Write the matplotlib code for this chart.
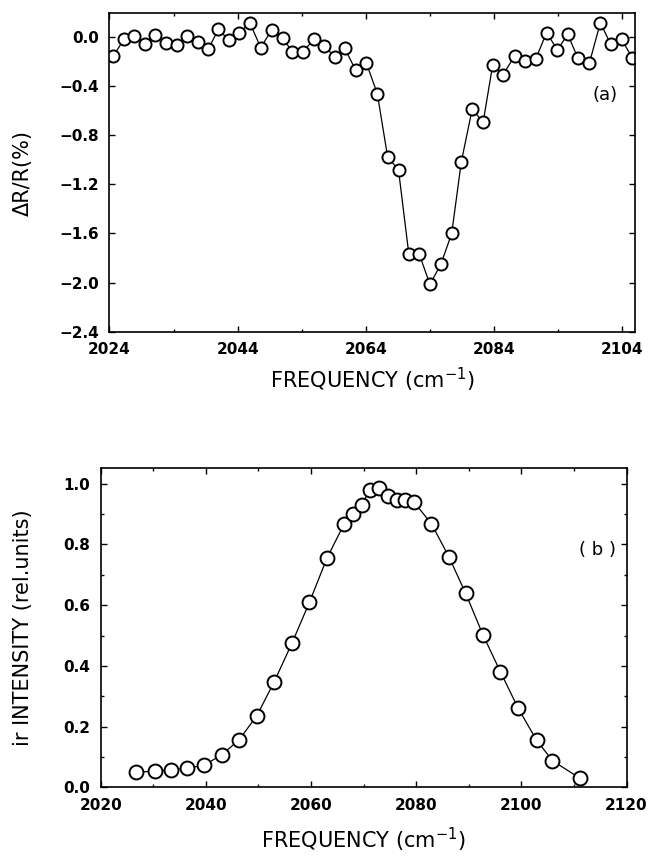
import numpy as np
import matplotlib as mpl
mpl.use('agg')
import matplotlib.pyplot as plt


##--##--  (a) reflectance change  --##--##
freq_a = [2024.6, 2026.3, 2027.9, 2029.5, 2031.1, 2032.8, 2034.5, 2036.1, 2037.8, 2039.4,
          2041.0, 2042.6, 2044.2, 2045.9, 2047.6, 2049.3, 2051.0, 2052.5, 2054.2, 2055.9,
          2057.5, 2059.2, 2060.7, 2062.4, 2064.1, 2065.8, 2067.4, 2069.1, 2070.7, 2072.3,
          2074.0, 2075.7, 2077.4, 2078.9, 2080.6, 2082.3, 2083.8, 2085.4, 2087.2, 2088.9,
          2090.5, 2092.2, 2093.9, 2095.5, 2097.1, 2098.9, 2100.6, 2102.2, 2103.9, 2105.6]
dR_a = [-0.157, -0.019, 0.006, -0.057, 0.014, -0.054, -0.068, 0.006, -0.046, -0.103,
        0.060, -0.027, 0.028, 0.114, -0.090, 0.055, -0.008, -0.122, -0.122, -0.021,
        -0.073, -0.168, -0.094, -0.271, -0.217, -0.466, -0.977, -1.085, -1.764, -1.764,
        -2.014, -1.853, -1.601, -1.018, -0.589, -0.697, -0.230, -0.312, -0.157, -0.195,
        -0.184, 0.033, -0.108, 0.020, -0.176, -0.212, 0.114, -0.062, -0.019, -0.176]

##--##--  (b) ir intensity  --##--##
freq_b = [2026.8, 2030.3, 2033.3, 2036.5, 2039.7, 2043.0, 2046.3, 2049.7, 2053.0, 2056.4,
          2059.7, 2063.0, 2066.3, 2067.9, 2069.6, 2071.2, 2073.0, 2074.7, 2076.3, 2077.9,
          2079.6, 2082.9, 2086.2, 2089.4, 2092.7, 2096.0, 2099.4, 2102.9, 2105.9, 2111.1]
int_b = [0.049, 0.054, 0.057, 0.063, 0.073, 0.107, 0.156, 0.236, 0.348, 0.476,
         0.610, 0.754, 0.868, 0.900, 0.930, 0.980, 0.985, 0.960, 0.947, 0.947,
         0.939, 0.868, 0.760, 0.639, 0.502, 0.381, 0.260, 0.155, 0.088, 0.030]

xticks_a = [2024, 2044, 2064, 2084, 2104]
yticks_a = [-2.4, -2.0, -1.6, -1.2, -0.8, -0.4, 0.0]
xticks_b = [2020, 2040, 2060, 2080, 2100, 2120]
yticks_b = [0.0, 0.2, 0.4, 0.6, 0.8, 1.0]


def style_axes(ax):
  ax.tick_params(axis='both', which='both', direction='in', top=True, right=True, width=1.0)
  ax.tick_params(axis='both', which='major', length=4.0, pad=7.5)
  ax.tick_params(axis='both', which='minor', length=2.0)
  for lab in ax.get_xticklabels() + ax.get_yticklabels():
    lab.set_fontfamily('DejaVu Sans')
    lab.set_fontweight('bold')
    lab.set_fontsize(11)
  for s in ax.spines.values():
    s.set_linewidth(1.2)
  return ax


fig = plt.figure(figsize=(6.49, 8.58), dpi=100)
lab_font = dict(family='DejaVu Sans', size=15)

##--##--  panel (a)  --##--##
ax1 = fig.add_axes([0.1687, 0.6134, 0.8097, 0.3711])
ax1.plot(freq_a, dR_a, color='k', linewidth=0.9, marker='o', markersize=8.7,
         markerfacecolor='white', markeredgecolor='k', markeredgewidth=1.4)
ax1.set_xlim(2024, 2106)
ax1.set_ylim(-2.4, 0.19)
ax1.set_xticks(xticks_a)
ax1.set_xticks(np.arange(2034, 2100, 20), minor=True)
ax1.set_yticks(yticks_a)
ax1.set_yticklabels(['%.1f' % v if v == 0 else ('\u2212%.1f' % abs(v)) for v in yticks_a])
style_axes(ax1)
ax1.set_xlabel('FREQUENCY (cm$^{-1}$)', **lab_font)
ax1.xaxis.set_label_coords(0.5, -0.108)
ax1.set_ylabel('\u0394R/R(%)', **lab_font)
ax1.yaxis.set_label_coords(-0.146, 0.5)
ax1.text(0.943, 0.743, '(a)', transform=ax1.transAxes, ha='center', va='center',
         family='DejaVu Sans', size=13)

##--##--  panel (b)  --##--##
ax2 = fig.add_axes([0.1552, 0.0824, 0.8102, 0.3725])
ax2.plot(freq_b, int_b, color='k', linewidth=0.9, marker='o', markersize=10,
         markerfacecolor='white', markeredgecolor='k', markeredgewidth=1.4)
ax2.set_xlim(2020, 2120)
ax2.set_ylim(0.0, 1.053)
ax2.set_xticks(xticks_b)
ax2.set_xticks(np.arange(2030, 2120, 20), minor=True)
ax2.set_yticks(yticks_b)
ax2.set_yticks(np.arange(0.1, 1.0, 0.2), minor=True)
ax2.set_yticklabels(['%.1f' % v for v in yticks_b])
style_axes(ax2)
ax2.set_xlabel('FREQUENCY (cm$^{-1}$)', **lab_font)
ax2.xaxis.set_label_coords(0.5, -0.121)
ax2.set_ylabel('ir INTENSITY (rel.units)', **lab_font)
ax2.yaxis.set_label_coords(-0.129, 0.5)
ax2.text(0.944, 0.742, '( b )', transform=ax2.transAxes, ha='center', va='center',
         family='DejaVu Sans', size=13)

fig.savefig('out.png', dpi=100)
